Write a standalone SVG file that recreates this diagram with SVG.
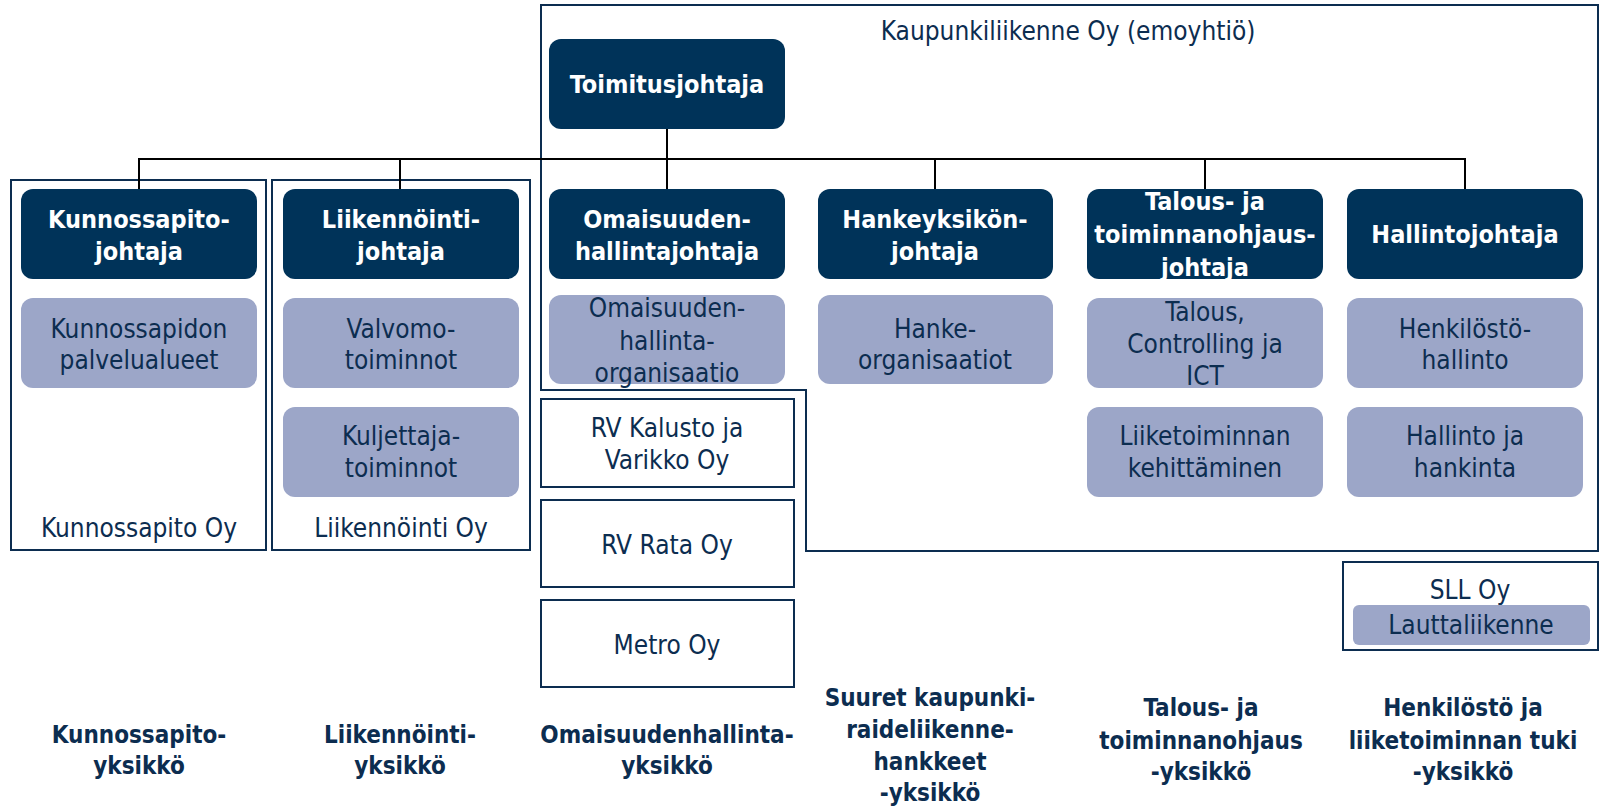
<svg xmlns="http://www.w3.org/2000/svg" width="1610" height="806" viewBox="0 0 1610 806">
<style>
text{font-family:"DejaVu Sans Condensed","DejaVu Sans",sans-serif;font-stretch:condensed;font-size:26px;text-anchor:middle}
.dk{fill:#003359}
.dt{fill:#ffffff;font-weight:bold;font-size:25px}
.lt{fill:#9CA6C8}
.lx{fill:#0C2D50}
.frame{fill:none;stroke:#0C2D50;stroke-width:2}
.co{fill:none;stroke:#000;stroke-width:2}
.bl{fill:#0C2D50;font-weight:bold;font-size:24px}
</style>
<rect width="1610" height="806" fill="#fff"/>
<g id="frames">
<path class="frame" d="M541 5 H1598 V551 H806 V390 H541 Z"/>
<rect class="frame" x="11" y="180" width="255" height="370"/>
<rect class="frame" x="272" y="180" width="258" height="370"/>
</g>
<g id="connectors">
<path class="co" d="M139 189 V159 H1465 V189 M400 159 V189 M935 159 V189 M1205 159 V189 M667 129 V189"/>
</g>
<g id="emo-label"><text class="lx" x="1068" y="40">Kaupunkiliikenne Oy (emoyhtiö)</text></g>
<g id="toimitusjohtaja"><rect class="dk" x="549" y="39" width="236" height="90" rx="12"/><text class="dt" x="667" y="93">Toimitusjohtaja</text></g>
<g id="kunnossapitojohtaja"><rect class="dk" x="21" y="189" width="236" height="90" rx="12"/><text class="dt" x="139" y="228">Kunnossapito-</text><text class="dt" x="139" y="260">johtaja</text></g>
<g id="liikennointijohtaja"><rect class="dk" x="283" y="189" width="236" height="90" rx="12"/><text class="dt" x="401" y="228">Liikennöinti-</text><text class="dt" x="401" y="260">johtaja</text></g>
<g id="omaisuudenhallintajohtaja"><rect class="dk" x="549" y="189" width="236" height="90" rx="12"/><text class="dt" x="667" y="228">Omaisuuden-</text><text class="dt" x="667" y="260">hallintajohtaja</text></g>
<g id="hankeyksikonjohtaja"><rect class="dk" x="818" y="189" width="235" height="90" rx="12"/><text class="dt" x="935" y="228">Hankeyksikön-</text><text class="dt" x="935" y="260">johtaja</text></g>
<g id="talousjohtaja"><rect class="dk" x="1087" y="189" width="236" height="90" rx="12"/><text class="dt" x="1205" y="210">Talous- ja</text><text class="dt" x="1205" y="243">toiminnanohjaus-</text><text class="dt" x="1205" y="276">johtaja</text></g>
<g id="hallintojohtaja"><rect class="dk" x="1347" y="189" width="236" height="90" rx="12"/><text class="dt" x="1465" y="243">Hallintojohtaja</text></g>
<g id="kunnossapidon-palvelualueet"><rect class="lt" x="21" y="298" width="236" height="90" rx="12"/><text class="lx" x="139" y="338">Kunnossapidon</text><text class="lx" x="139" y="369">palvelualueet</text></g>
<g id="valvomotoiminnot"><rect class="lt" x="283" y="298" width="236" height="90" rx="12"/><text class="lx" x="401" y="338">Valvomo-</text><text class="lx" x="401" y="369">toiminnot</text></g>
<g id="omaisuudenhallinta-org"><rect class="lt" x="549" y="295" width="236" height="89" rx="12"/><text class="lx" x="667" y="317">Omaisuuden-</text><text class="lx" x="667" y="350">hallinta-</text><text class="lx" x="667" y="382">organisaatio</text></g>
<g id="hankeorganisaatiot"><rect class="lt" x="818" y="295" width="235" height="89" rx="12"/><text class="lx" x="935" y="338">Hanke-</text><text class="lx" x="935" y="369">organisaatiot</text></g>
<g id="talous-controlling"><rect class="lt" x="1087" y="298" width="236" height="90" rx="12"/><text class="lx" x="1205" y="321">Talous,</text><text class="lx" x="1205" y="353">Controlling ja</text><text class="lx" x="1205" y="385">ICT</text></g>
<g id="henkilostohallinto"><rect class="lt" x="1347" y="298" width="236" height="90" rx="12"/><text class="lx" x="1465" y="338">Henkilöstö-</text><text class="lx" x="1465" y="369">hallinto</text></g>
<g id="kuljettajatoiminnot"><rect class="lt" x="283" y="407" width="236" height="90" rx="12"/><text class="lx" x="401" y="445">Kuljettaja-</text><text class="lx" x="401" y="477">toiminnot</text></g>
<g id="liiketoiminnan-kehittaminen"><rect class="lt" x="1087" y="407" width="236" height="90" rx="12"/><text class="lx" x="1205" y="445">Liiketoiminnan</text><text class="lx" x="1205" y="477">kehittäminen</text></g>
<g id="hallinto-hankinta"><rect class="lt" x="1347" y="407" width="236" height="90" rx="12"/><text class="lx" x="1465" y="445">Hallinto ja</text><text class="lx" x="1465" y="477">hankinta</text></g>
<g id="kunnossapito-oy"><text class="lx" x="139" y="537">Kunnossapito Oy</text></g>
<g id="liikennointi-oy"><text class="lx" x="401" y="537">Liikennöinti Oy</text></g>
<g id="rv-kalusto"><rect class="frame" x="541" y="399" width="253" height="88"/><text class="lx" x="667" y="437">RV Kalusto ja</text><text class="lx" x="667" y="469">Varikko Oy</text></g>
<g id="rv-rata"><rect class="frame" x="541" y="500" width="253" height="87"/><text class="lx" x="667" y="554">RV Rata Oy</text></g>
<g id="metro-oy"><rect class="frame" x="541" y="600" width="253" height="87"/><text class="lx" x="667" y="654">Metro Oy</text></g>
<g id="sll-oy"><rect class="frame" x="1343" y="562" width="255" height="88"/><text class="lx" x="1470" y="599">SLL Oy</text><rect class="lt" x="1353" y="605" width="237" height="40" rx="6"/><text class="lx" x="1471" y="634">Lauttaliikenne</text></g>
<g id="unit-labels">
<text class="bl" x="139" y="743">Kunnossapito-</text><text class="bl" x="139" y="774">yksikkö</text>
<text class="bl" x="400" y="743">Liikennöinti-</text><text class="bl" x="400" y="774">yksikkö</text>
<text class="bl" x="667" y="743">Omaisuudenhallinta-</text><text class="bl" x="667" y="774">yksikkö</text>
<text class="bl" x="930" y="706">Suuret kaupunki-</text><text class="bl" x="930" y="738">raideliikenne-</text><text class="bl" x="930" y="770">hankkeet</text><text class="bl" x="930" y="801">-yksikkö</text>
<text class="bl" x="1201" y="716">Talous- ja</text><text class="bl" x="1201" y="749">toiminnanohjaus</text><text class="bl" x="1201" y="780">-yksikkö</text>
<text class="bl" x="1463" y="716">Henkilöstö ja</text><text class="bl" x="1463" y="749">liiketoiminnan tuki</text><text class="bl" x="1463" y="780">-yksikkö</text>
</g>
</svg>
